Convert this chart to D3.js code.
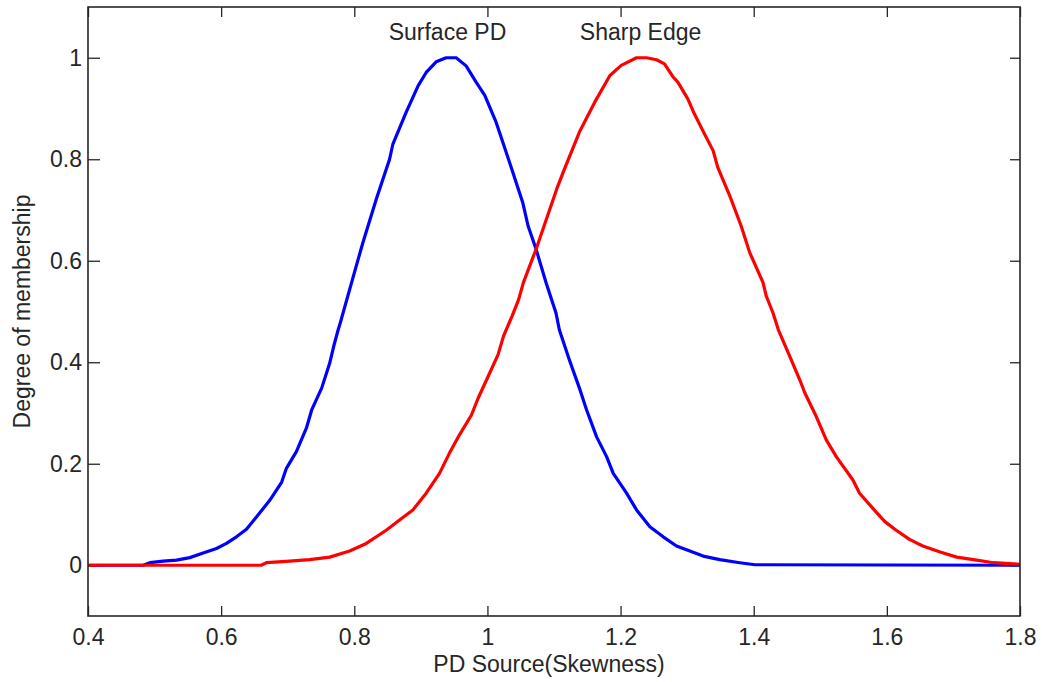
<!DOCTYPE html>
<html>
<head>
<meta charset="utf-8">
<script src="https://cdn.jsdelivr.net/npm/d3@7"></script>
<style>
  html, body { margin: 0; padding: 0; background: #fff; }
  svg { display: block; }
  text { font-family: "Liberation Sans", Arial, sans-serif; fill: #262626; }
</style>
</head>
<body>
<svg id="chart" width="1042" height="682"></svg>
<script>
// Membership function of "Surface PD" over skewness
const surfaceX = [0.400, 0.483, 0.493, 0.513, 0.533, 0.553, 0.573, 0.593, 0.608, 0.623, 0.638, 0.653,
  0.673, 0.691, 0.698, 0.713, 0.728, 0.736, 0.751, 0.763, 0.769, 0.776, 0.779, 0.803, 0.813, 0.833,
  0.853, 0.858, 0.878, 0.896, 0.908, 0.923, 0.938, 0.953, 0.968, 0.983, 0.996, 1.013, 1.023, 1.038,
  1.053, 1.061, 1.073, 1.088, 1.093, 1.103, 1.108, 1.123, 1.139, 1.149, 1.164, 1.179, 1.189, 1.209,
  1.224, 1.244, 1.264, 1.284, 1.304, 1.324, 1.349, 1.379, 1.402, 1.800];
const surfaceY = [0.000, 0.000, 0.005, 0.008, 0.010, 0.015, 0.024, 0.033, 0.043, 0.056, 0.071, 0.095,
  0.128, 0.164, 0.191, 0.224, 0.270, 0.306, 0.349, 0.398, 0.431, 0.465, 0.478, 0.590, 0.636, 0.721,
  0.800, 0.830, 0.893, 0.945, 0.971, 0.992, 1.000, 1.000, 0.984, 0.952, 0.926, 0.873, 0.834, 0.775,
  0.715, 0.669, 0.623, 0.557, 0.537, 0.497, 0.464, 0.405, 0.346, 0.306, 0.253, 0.214, 0.181, 0.142,
  0.109, 0.076, 0.056, 0.038, 0.028, 0.018, 0.011, 0.005, 0.001, 0.000];

// Membership function of "Sharp Edge" over skewness
const sharpX = [0.400, 0.660, 0.668, 0.703, 0.733, 0.763, 0.793, 0.818, 0.848, 0.868, 0.888, 0.908,
  0.928, 0.943, 0.958, 0.976, 0.986, 1.001, 1.016, 1.024, 1.037, 1.047, 1.054, 1.074, 1.104, 1.114,
  1.138, 1.161, 1.184, 1.201, 1.224, 1.239, 1.254, 1.266, 1.279, 1.286, 1.301, 1.311, 1.326, 1.339,
  1.346, 1.364, 1.381, 1.394, 1.414, 1.419, 1.429, 1.437, 1.454, 1.469, 1.477, 1.494, 1.509, 1.524,
  1.549, 1.559, 1.579, 1.597, 1.614, 1.634, 1.654, 1.680, 1.705, 1.735, 1.760, 1.800];
const sharpY = [0.000, 0.000, 0.005, 0.008, 0.011, 0.016, 0.028, 0.043, 0.069, 0.089, 0.109, 0.142,
  0.181, 0.221, 0.257, 0.296, 0.329, 0.372, 0.415, 0.451, 0.491, 0.524, 0.557, 0.626, 0.741, 0.775,
  0.853, 0.912, 0.965, 0.985, 1.000, 1.000, 0.996, 0.988, 0.962, 0.952, 0.919, 0.889, 0.850, 0.817,
  0.784, 0.728, 0.669, 0.616, 0.557, 0.530, 0.497, 0.464, 0.412, 0.366, 0.339, 0.293, 0.247, 0.214,
  0.168, 0.142, 0.112, 0.086, 0.069, 0.051, 0.038, 0.026, 0.016, 0.010, 0.005, 0.002];

const xTicks = [0.4, 0.6, 0.8, 1.0, 1.2, 1.4, 1.6, 1.8];
const xTickLabels = ["0.4", "0.6", "0.8", "1", "1.2", "1.4", "1.6", "1.8"];
const yTicks = [0, 0.2, 0.4, 0.6, 0.8, 1.0];
const yTickLabels = ["0", "0.2", "0.4", "0.6", "0.8", "1"];

const seriesNames = ["Surface PD", "Sharp Edge"];
const seriesLabelPos = [[0.94, 1.05], [1.23, 1.05]];

const svg = d3.select("#chart");
const W = 1042, H = 682;
const m = { left: 88, right: 1020, top: 7, bottom: 616 };

svg.append("rect").attr("width", W).attr("height", H).attr("fill", "#fff");

const x = d3.scaleLinear().domain([0.4, 1.8]).range([m.left, m.right]);
const y = d3.scaleLinear().domain([-0.1, 1.1]).range([m.bottom, m.top]);

svg.append("defs").append("clipPath").attr("id", "plotClip")
  .append("rect")
  .attr("x", m.left).attr("y", m.top)
  .attr("width", m.right - m.left).attr("height", m.bottom - m.top);

const axisColor = "#262626";
const fontSize = 23;

// Bottom axis with labels, ticks pointing inward
const xAxisBottom = d3.axisBottom(x).tickValues(xTicks)
  .tickFormat((d, i) => xTickLabels[i]).tickSizeInner(-10).tickSizeOuter(0).tickPadding(13);
const gxb = svg.append("g").attr("transform", `translate(0,${m.bottom})`).call(xAxisBottom);

// Top axis: ticks only
const xAxisTop = d3.axisTop(x).tickValues(xTicks).tickFormat("").tickSizeInner(-10).tickSizeOuter(0);
const gxt = svg.append("g").attr("transform", `translate(0,${m.top})`).call(xAxisTop);

// Left axis with labels
const yAxisLeft = d3.axisLeft(y).tickValues(yTicks)
  .tickFormat((d, i) => yTickLabels[i]).tickSizeInner(-12).tickSizeOuter(0).tickPadding(6);
const gyl = svg.append("g").attr("transform", `translate(${m.left},0)`).call(yAxisLeft);

// Right axis: ticks only
const yAxisRight = d3.axisRight(y).tickValues(yTicks).tickFormat("").tickSizeInner(-10).tickSizeOuter(0);
const gyr = svg.append("g").attr("transform", `translate(${m.right},0)`).call(yAxisRight);

[gxb, gxt, gyl, gyr].forEach(g => {
  g.select(".domain").remove();
  g.selectAll(".tick line").attr("stroke", axisColor).attr("stroke-width", 1.3);
  g.selectAll(".tick text")
    .style("font-family", '"Liberation Sans", Arial, sans-serif')
    .style("font-size", fontSize + "px")
    .attr("fill", axisColor);
});

// Curves
const line = d3.line().x(d => x(d[0])).y(d => y(d[1]));
const surfaceData = surfaceX.map((v, i) => [v, surfaceY[i]]);
const sharpData = sharpX.map((v, i) => [v, sharpY[i]]);

const plot = svg.append("g").attr("clip-path", "url(#plotClip)");
plot.append("path").datum(surfaceData)
  .attr("d", line).attr("fill", "none")
  .attr("stroke", "#0000ff").attr("stroke-width", 3.2).attr("stroke-linejoin", "round");
plot.append("path").datum(sharpData)
  .attr("d", line).attr("fill", "none")
  .attr("stroke", "#ff0000").attr("stroke-width", 3.2).attr("stroke-linejoin", "round");

// Axes box
svg.append("rect")
  .attr("x", m.left).attr("y", m.top)
  .attr("width", m.right - m.left).attr("height", m.bottom - m.top)
  .attr("fill", "none").attr("stroke", axisColor).attr("stroke-width", 1.6);

// Curve names
svg.selectAll("text.series-label").data(seriesNames).enter()
  .append("text").attr("class", "series-label")
  .attr("x", (d, i) => x(seriesLabelPos[i][0]))
  .attr("y", (d, i) => y(seriesLabelPos[i][1]))
  .attr("text-anchor", "middle")
  .attr("dominant-baseline", "central")
  .style("font-size", fontSize + "px")
  .text(d => d);

// Axis titles
svg.append("text")
  .attr("x", (m.left + m.right) / 2 - 5).attr("y", 672)
  .attr("text-anchor", "middle")
  .style("font-size", fontSize + "px")
  .text("PD Source(Skewness)");

svg.append("text")
  .attr("transform", `translate(30,${(m.top + m.bottom) / 2}) rotate(-90)`)
  .attr("text-anchor", "middle")
  .style("font-size", fontSize + "px")
  .text("Degree of membership");
</script>
</body>
</html>
